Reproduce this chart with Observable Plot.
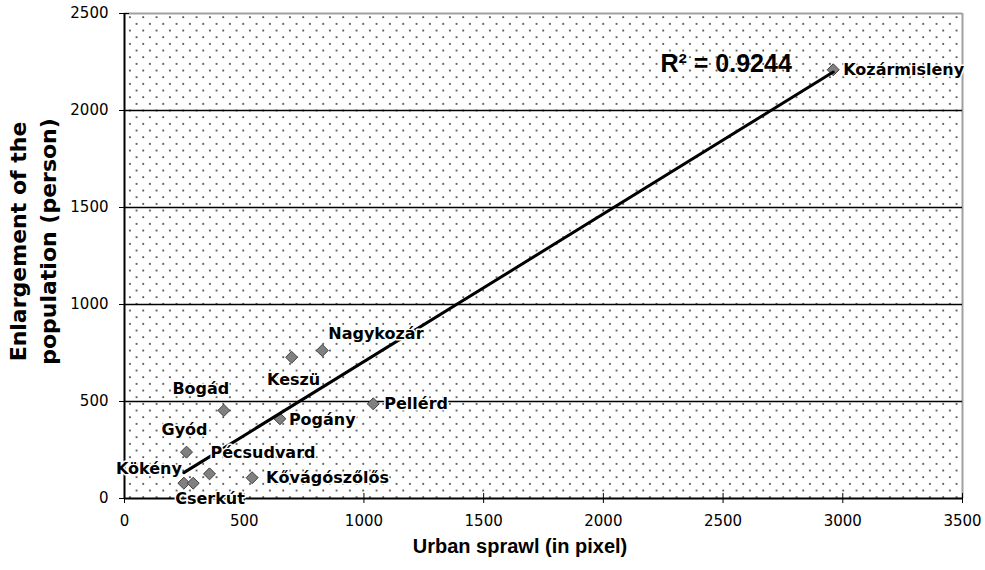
<!DOCTYPE html>
<html>
<head>
<meta charset="utf-8">
<script src="https://cdn.jsdelivr.net/npm/d3@7"></script>
<script src="https://cdn.jsdelivr.net/npm/@observablehq/plot@0.6"></script>
<style>
  html, body { margin: 0; padding: 0; background: #fff; }
  #chart svg { display: block; }
</style>
</head>
<body>
<div id="chart"></div>
<script>
// Data
const settlements = ["Kozármisleny", "Nagykozár", "Keszü", "Pellérd", "Bogád", "Pogány", "Gyód", "Pécsudvard", "Kővágószőlős", "Kökény", "Cserkút"];
const sprawl = [2960, 826, 698, 1039, 415, 649, 259, 355, 533, 248, 287];
const enlargement = [2210, 763, 728, 488, 454, 411, 239, 127, 107, 79, 79];
const xTicks = [0, 500, 1000, 1500, 2000, 2500, 3000, 3500];
const yTicks = [0, 500, 1000, 1500, 2000, 2500];
const gridValues = [500, 1000, 1500, 2000];
const xTitle = "Urban sprawl (in pixel)";
const yTitle = "Enlargement of the\npopulation (person)";
const r2Text = "R² = 0.9244";

const data = settlements.map((name, i) => ({name, x: sprawl[i], y: enlargement[i]}));

// label placement (pixel offsets from each marker), kept apart from the data
const labelLayout = {
  "Kozármisleny": {dx: 10, dy: 0, anchor: "start"},
  "Nagykozár": {dx: 6, dy: -17, anchor: "start"},
  "Keszü": {dx: 2, dy: 23, anchor: "middle"},
  "Pellérd": {dx: 11, dy: 0, anchor: "start"},
  "Bogád": {dx: -23, dy: -22, anchor: "middle"},
  "Pogány": {dx: 9, dy: 1, anchor: "start"},
  "Gyód": {dx: -2, dy: -22, anchor: "middle"},
  "Pécsudvard": {dx: 1, dy: -21, anchor: "start"},
  "Kővágószőlős": {dx: 14, dy: 0, anchor: "start"},
  "Kökény": {dx: -2, dy: -14, anchor: "end"},
  "Cserkút": {dx: -18, dy: 16, anchor: "start"}
};

const labelFont = "DejaVu Sans";
const labelMarks = settlements.map(n => Plot.text(data.filter(d => d.name === n), {
  x: "x", y: "y", text: "name",
  dx: labelLayout[n].dx, dy: labelLayout[n].dy, textAnchor: labelLayout[n].anchor,
  fontFamily: labelFont, fontWeight: "bold", fontSize: 16, fill: "black",
  stroke: "white", strokeWidth: 3, strokeLinejoin: "round"
}));

const fmt = d => String(d);

const svg = Plot.plot({
  width: 985,
  height: 570,
  marginLeft: 124,
  marginRight: 23,
  marginTop: 13,
  marginBottom: 72,
  style: {fontFamily: "DejaVu Sans, sans-serif", fontSize: "15px", background: "white", color: "black"},
  x: {domain: [0, 3500], axis: null},
  y: {domain: [0, 2500], axis: null},
  marks: [
    Plot.frame({fill: "url(#dots)", stroke: null}),
    Plot.ruleY([2500], {stroke: "#a0a0a0", strokeWidth: 2}),
    Plot.ruleX([3500], {stroke: "#a0a0a0", strokeWidth: 2}),
    Plot.ruleY(gridValues, {stroke: "black", strokeWidth: 1.6}),
    Plot.ruleX([0], {stroke: "black", strokeWidth: 2}),
    Plot.ruleY([0], {stroke: "black", strokeWidth: 2}),
    Plot.axisY(yTicks, {tickSize: 10, dx: 5, tickFormat: () => "", label: null, color: "black"}),
    Plot.axisY(yTicks, {tickSize: 0, tickPadding: 16, tickFormat: fmt, fontSize: 15, fontFamily: "DejaVu Sans", label: null, color: "black"}),
    Plot.axisX(xTicks, {tickSize: 10, dy: -5, tickFormat: () => "", label: null, color: "black"}),
    Plot.axisX(xTicks, {tickSize: 0, tickPadding: 17, tickFormat: fmt, fontSize: 15, fontFamily: "DejaVu Sans", label: null, color: "black"}),
    Plot.dot(data, {x: "x", y: "y", symbol: "diamond2", r: 5.4, fill: "#808080", stroke: "#404040", strokeWidth: 1}),
    Plot.linearRegressionY(data, {x: "x", y: "y", ci: 0, stroke: "black", strokeWidth: 3}),
    ...labelMarks,
    Plot.text([r2Text], {frameAnchor: "top-left", dx: 536, dy: 41, textAnchor: "start",
      fontFamily: "Liberation Sans, Arial, sans-serif", fontWeight: "bold", fontSize: 25, fill: "black"}),
    Plot.text([xTitle], {frameAnchor: "bottom", dx: -23.5, dy: 54,
      fontFamily: "Liberation Sans, Arial, sans-serif", fontWeight: "bold", fontSize: 20, fill: "black"}),
    Plot.text([yTitle], {frameAnchor: "left", dx: -93, dy: -14.5, rotate: -90, lineHeight: 1.36, textAnchor: "middle",
      fontFamily: "DejaVu Sans", fontWeight: "bold", fontSize: 22, fill: "black"})
  ]
});

// dotted background pattern used by the frame fill
const defs = d3.select(svg).insert("defs", ":first-child");
const pat = defs.append("pattern")
  .attr("id", "dots")
  .attr("patternUnits", "userSpaceOnUse")
  .attr("x", 2.7).attr("y", 10)
  .attr("width", 13.333).attr("height", 13.333);
[[-0.7, -0.7], [5.97, 5.97], [12.63, 12.63], [12.63, -0.7], [-0.7, 12.63]].forEach(([px, py]) => {
  pat.append("rect").attr("x", px).attr("y", py).attr("width", 1.5).attr("height", 1.5).attr("fill", "#000");
});

document.getElementById("chart").appendChild(svg);
</script>
</body>
</html>
